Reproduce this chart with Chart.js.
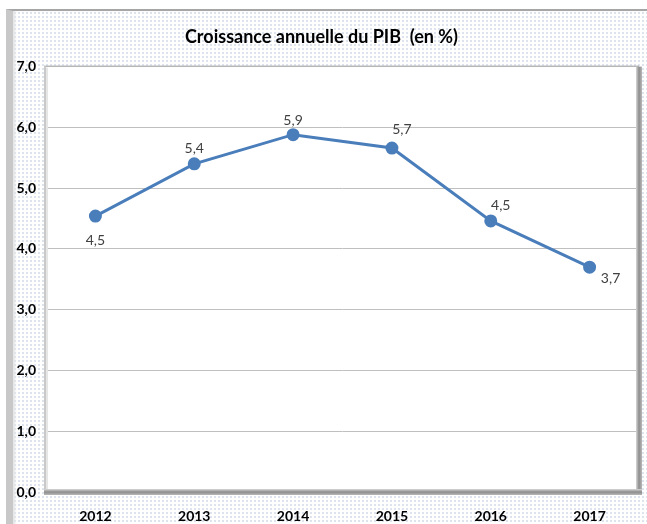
<!DOCTYPE html>
<html>
<head>
<meta charset="utf-8">
<script src="https://cdn.jsdelivr.net/npm/chart.js@4/dist/chart.umd.min.js"></script>
<style>
  html, body { margin: 0; padding: 0; background: #fff; }
  #wrap { position: relative; width: 647px; height: 524px; overflow: hidden; background: #fff; }
  #frame {
    position: absolute; left: 6px; top: 9px; right: -10px; bottom: -10px;
    border-top: 2px solid #a6a6a6;
    border-left: 7px solid #c8c8c8;
    box-shadow: inset 3px 0 3px -1px #e4e4e4;
    background-color: #fff;
    background-image: radial-gradient(circle, #dde4ee 0.8px, transparent 1.1px);
    background-size: 4px 4px;
  }
  canvas { position: absolute; left: 0; top: 0; }
</style>
</head>
<body>
<div id="wrap">
  <div id="frame"></div>
  <canvas id="pibChart" width="647" height="524"></canvas>
</div>
<script>
// Croissance annuelle du PIB
const years = ['2012', '2013', '2014', '2015', '2016', '2017'];
const growth = [4.54, 5.4, 5.88, 5.66, 4.46, 3.7];
const yTicks = [0, 1, 2, 3, 4, 5, 6, 7];

// label offsets (px) from each point, like the original placement
const labelOffsets = [[0, 24], [0, -15], [0, -14], [10, -19], [10, -15], [21, 11]];

const fmt = v => v.toFixed(1).replace('.', ',');

// white plot area with grey 3D frame
const plotFrame = {
    id: 'plotFrame',
    beforeDatasetsDraw(chart) {
        const a = chart.chartArea;
        const c = chart.ctx;
        c.save();
        // left/top light edge
        c.fillStyle = '#c9c9c9';
        c.fillRect(a.left - 2, a.top, 2, a.bottom - a.top);
        c.fillStyle = '#e6e6e6';
        c.fillRect(a.left, a.top + 1, 2, a.bottom - a.top - 1);
        c.fillStyle = '#b0b0b0';
        c.fillRect(a.left - 2, a.top - 1, a.right - a.left + 2, 1);
        // right shadow
        let g = c.createLinearGradient(a.right - 3, 0, a.right + 3, 0);
        g.addColorStop(0, '#d8d8d8');
        g.addColorStop(0.5, '#8c8c8c');
        g.addColorStop(1, '#b8b8b8');
        c.fillStyle = g;
        c.fillRect(a.right - 3, a.top, 6, a.bottom - a.top + 3);
        // bottom shadow
        g = c.createLinearGradient(0, a.bottom - 3, 0, a.bottom + 3);
        g.addColorStop(0, '#d8d8d8');
        g.addColorStop(0.5, '#8c8c8c');
        g.addColorStop(1, '#b8b8b8');
        c.fillStyle = g;
        c.fillRect(a.left - 2, a.bottom - 3, a.right - a.left + 5, 6);
        c.restore();
    },
    beforeDraw(chart) {
        const a = chart.chartArea;
        chart.ctx.fillStyle = '#ffffff';
        chart.ctx.fillRect(a.left, a.top, a.right - a.left, a.bottom - a.top);
    }
};

// value labels next to points
const valueLabels = {
    id: 'valueLabels',
    afterDatasetsDraw(chart) {
        const c = chart.ctx;
        const pts = chart.getDatasetMeta(0).data;
        c.save();
        c.font = '14px Lato, "Open Sans", sans-serif';
        c.fillStyle = '#404040';
        c.textAlign = 'center';
        c.textBaseline = 'middle';
        pts.forEach((p, i) => {
            const o = labelOffsets[i];
            c.fillText(fmt(growth[i]), p.x + o[0], p.y + o[1]);
        });
        c.restore();
    }
};

const ctx = document.getElementById('pibChart').getContext('2d');
const pibChart = new Chart(ctx, {
    type: 'line',
    data: {
        labels: years,
        datasets: [{
            label: 'Croissance annuelle du PIB',
            data: growth,
            borderColor: '#4A7EBB',
            backgroundColor: '#4A7EBB',
            borderWidth: 3,
            pointRadius: 5,
            pointHoverRadius: 5,
            fill: false,
            tension: 0
        }]
    },
    options: {
        responsive: false,
        animation: false,
        layout: { padding: { left: 0, right: 4, top: 0, bottom: 0 } },
        plugins: {
            legend: { display: false },
            tooltip: { enabled: false },
            title: {
                display: true,
                text: 'Croissance annuelle du PIB  (en %)',
                color: '#000',
                font: { family: 'Lato, "Open Sans", sans-serif', size: 18, weight: 'bold', lineHeight: 1.2 },
                padding: { top: 26, bottom: 19 }
            }
        },
        scales: {
            x: {
                offset: true,
                grid: { display: false, drawTicks: false, offset: true },
                border: { display: false },
                ticks: {
                    color: '#000',
                    padding: 16,
                    font: { family: 'Lato, "Open Sans", sans-serif', size: 14, weight: 'bold' }
                },
                afterFit(scale) { scale.height = 32; }
            },
            y: {
                min: 0,
                max: 7,
                afterBuildTicks(scale) { scale.ticks = yTicks.map(v => ({ value: v })); },
                grid: {
                    color: '#bfbfbf',
                    lineWidth: 1,
                    drawTicks: false
                },
                border: { display: false },
                ticks: {
                    color: '#000',
                    padding: 10,
                    callback: v => fmt(v),
                    font: { family: 'Lato, "Open Sans", sans-serif', size: 14, weight: 'bold' }
                },
                afterFit(scale) { scale.width = 46; }
            }
        }
    },
    plugins: [plotFrame, valueLabels]
});
</script>
</body>
</html>
